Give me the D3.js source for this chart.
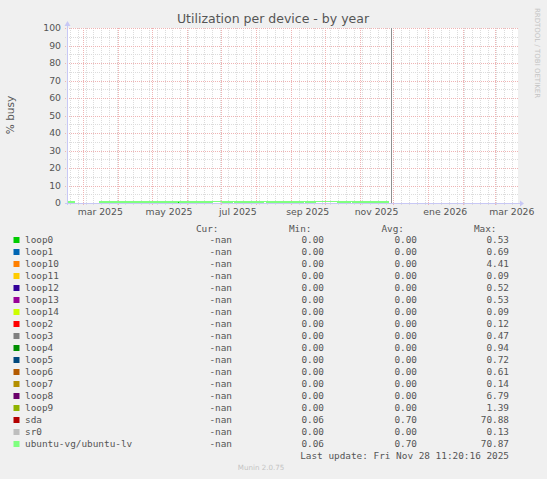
<!DOCTYPE html>
<html><head><meta charset="utf-8">
<script src="https://cdn.jsdelivr.net/npm/d3@7"></script>
<style>body{margin:0;background:#f0f0f0}svg{display:block}</style>
</head><body><svg id="c" width="547" height="479"></svg>
<script>
// ---- data ----
const dates = ["2025-02-15","2025-02-22","2025-03-01","2025-03-08","2025-03-15","2025-03-22","2025-03-29",
  "2025-04-05","2025-04-12","2025-04-19","2025-04-26","2025-05-03","2025-05-10","2025-05-17","2025-05-24",
  "2025-05-31","2025-06-07","2025-06-14","2025-06-21","2025-06-28","2025-07-05","2025-07-12","2025-07-19",
  "2025-07-26","2025-08-02","2025-08-09","2025-08-16","2025-08-23","2025-08-30","2025-09-06","2025-09-13",
  "2025-09-20","2025-09-27","2025-10-04","2025-10-11","2025-10-18","2025-10-25","2025-11-01","2025-11-08",
  "2025-11-15","2025-11-22","2025-11-27"];
const seriesNames = ["loop0","loop1","loop10","loop11","loop12","loop13","loop14","loop2","loop3","loop4",
  "loop5","loop6","loop7","loop8","loop9","sda","sr0","ubuntu-vg/ubuntu-lv"];
const seriesColors = ["#00cc00","#0066b3","#ff8000","#ffcc00","#330099","#990099","#ccff00","#ff0000","#808080",
  "#008f00","#00487d","#b35a00","#b38f00","#6b006b","#8fb300","#b30000","#bebebe","#80ff80"];
const loop0  = [0,0,0,0,0,0,0,0,0,0,0,0,0,0,0.2,0,0,0,0,0,0,0,0,0,0,0,0,0,0,0,0,0,0,0,0,0,0,0,0,0,0,0];
const loop1  = [0,0,0,0,0,0,0,0,0,0,0,0,0,0,0,0,0,0,0,0,0,0,0,0.3,0,0,0,0,0,0,0,0,0,0,0,0,0,0,0,0,0,0];
const loop10 = [0,0,0,0,0,0,0,0,0,0,0.9,0,0,0,0,0,0,0,0,0,0,0,0,0,0,0,0,0,0,0,0,0,0,0,0,0,0,0,0,0,0,0];
const loop11 = [0,0,0,0,0,0,0,0,0,0,0,0,0,0,0,0,0,0,0,0,0,0,0,0,0,0,0,0,0,0,0,0,0,0,0,0,0,0,0,0,0,0];
const loop12 = [0,0,0,0,0,0,0,0,0,0,0,0,0,0,0,0,0,0,0,0,0,0,0,0,0,0,0,0,0,0,0,0,0,0,0,0,0,0,0,0,0,0];
const loop13 = [0,0,0,0,0,0,0,0,0,0,0,0,0,0,0,0,0,0,0,0,0,0,0,0,0,0,0,0,0,0,0,0,0,0,0,0,0,0,0,0,0,0];
const loop14 = [0,0,0,0,0,0,0,0,0,0,0,0,0,0,0,0,0,0,0,0,0,0,0,0,0,0,0,0,0,0,0,0,0,0,0,0,0,0,0,0,0,0];
const loop2  = [0,0,0,0,0,0,0,0,0,0,0,0,0,0,0,0,0,0,0,0,0,0,0,0,0,0,0,0,0,0,0,0,0,0,0,0,0,0,0,0,0,0];
const loop3  = [0,0,0,0,0,0,0,0,0,0,0,0,0,0,0,0,0,0,0,0,0,0,0,0,0,0,0,0,0,0,0,0,0,0,0,0,0,0,0,0,0,0];
const loop4  = [0,0,0,0,0,0,0,0,0,0,0,0,0,0,0,0,0,0,0,0,0,0,0,0,0,0,0,0.3,0,0,0,0,0,0,0,0,0,0,0,0,0,0];
const loop5  = [0,0,0,0,0,0,0,0,0,0,0,0,0,0,0,0,0,0,0,0,0,0,0,0,0,0,0,0,0,0,0,0,0,0,0,0,0,0,0,0,0,0];
const loop6  = [0,0,0,0,0,0,0,0,0,0,0,0,0,0,0,0,0,0,0,0,0,0,0,0,0,0,0,0,0,0,0,0,0,0,0,0,0,0,0,0,0,0];
const loop7  = [0,0,0,0,0,0,0,0,0,0,0,0,0,0,0,0,0,0,0,0,0,0,0,0,0,0,0,0,0,0,0,0,0,0,0,0,0,0,0,0,0,0];
const loop8  = [0,0,0,0,0,0,0,0,0,0,0,0,0,0,0,0,0,0,0,0,0,0.9,0,0,0,0,0,0,0,0,0,0,0,0,0,0,0,0,0,0,0,0];
const loop9  = [0,0,0,0,0,0,0,0,0,0,0,0,0,0,0,0,0,0,0,0,0,0,0,0,0,0,0,0,0,0,0,0,0,0,0,0,0,0,0,0,0,0];
const sda    = [0.5,0.4,null,null,0.4,0.5,0.5,0.6,0.5,0.5,0.6,0.5,0.7,0.6,0.8,0.7,0.6,1.0,0.7,0.9,0.7,0.8,0.7,0.7,
  0.7,0.8,0.7,0.7,0.6,0.7,0.8,0.7,0.9,0.9,0.8,0.7,0.8,0.7,0.6,0.5,0.5,0.4];
const sr0    = [0,0,0,0,0,0,0,0,0,0,0,0,0,0,0,0,0,0,0,0,0,0,0,0,0,0,0,0,0,0,0,0,0,0,0,0,0,0,0,0,0,0];
const ubuntuLv = [0.5,0.4,null,null,0.4,0.5,0.5,0.6,0.5,0.5,0.6,0.5,0.7,0.6,0.8,0.7,0.6,0.5,0.7,0.9,0.7,0.8,0.7,0.7,
  0.7,0.8,0.7,0.7,0.6,0.7,0.8,0.7,0.9,0.9,0.8,0.7,0.8,0.7,0.6,0.5,0.5,0.4];
const seriesValues = [loop0,loop1,loop10,loop11,loop12,loop13,loop14,loop2,loop3,loop4,loop5,loop6,loop7,loop8,loop9,sda,sr0,ubuntuLv];

const legendCur = ["-nan","-nan","-nan","-nan","-nan","-nan","-nan","-nan","-nan","-nan","-nan","-nan","-nan","-nan","-nan","-nan","-nan","-nan"];
const legendMin = ["0.00","0.00","0.00","0.00","0.00","0.00","0.00","0.00","0.00","0.00","0.00","0.00","0.00","0.00","0.00","0.06","0.00","0.06"];
const legendAvg = ["0.00","0.00","0.00","0.00","0.00","0.00","0.00","0.00","0.00","0.00","0.00","0.00","0.00","0.00","0.00","0.70","0.00","0.70"];
const legendMax = ["0.53","0.69","4.41","0.09","0.52","0.53","0.09","0.12","0.47","0.94","0.72","0.61","0.14","6.79","1.39","70.88","0.13","70.87"];

const yTicks = [0,10,20,30,40,50,60,70,80,90,100];
const xTickMonths = ["2025-03-01","2025-05-01","2025-07-01","2025-09-01","2025-11-01","2026-01-01","2026-03-01"];
const xTickLabels = ["mar 2025","may 2025","jul 2025","sep 2025","nov 2025","ene 2026","mar 2026"];
const timeStart = "2025-02-14T12:00:00Z";
const timeEnd = "2026-03-21T12:00:00Z";
const lastUpdate = "2025-11-28T11:20:16Z";
const titleText = "Utilization per device - by year";
const yLabelText = "% busy";
const lastUpdateText = "Last update: Fri Nov 28 11:20:16 2025";

// ---- drawing ----
const svg = d3.select("#c");
const L = 67, R = 518, T = 28, B = 203;
const x = d3.scaleUtc().domain([new Date(timeStart), new Date(timeEnd)]).range([L, R]);
const y = d3.scaleLinear().domain([0, 100]).range([B, T]);
const parse = s => new Date(s + "T00:00:00Z");

svg.append("rect").attr("width",547).attr("height",479).attr("fill","#f0f0f0");
svg.append("rect").attr("x",L).attr("y",T).attr("width",R-L).attr("height",B-T).attr("fill","#ffffff");

const grid = svg.append("g").attr("shape-rendering","crispEdges");
const minorC = "#dcdcdc", majorC = "#efb4b4";
d3.range(5, 100, 10).forEach(v => {
  grid.append("line").attr("x1",L-2).attr("x2",R).attr("y1",Math.round(y(v))+0.5).attr("y2",Math.round(y(v))+0.5)
    .attr("stroke",minorC).attr("stroke-dasharray","1,1");
});
d3.utcMonday.range(x.domain()[0], x.domain()[1]).forEach(d => {
  const px = Math.round(x(d))+0.5;
  grid.append("line").attr("x1",px).attr("x2",px).attr("y1",T).attr("y2",B+2)
    .attr("stroke",minorC).attr("stroke-dasharray","1,1");
});
yTicks.forEach(v => {
  grid.append("line").attr("x1",L-2).attr("x2",R).attr("y1",Math.round(y(v))+0.5).attr("y2",Math.round(y(v))+0.5)
    .attr("stroke",majorC).attr("stroke-dasharray","1,1");
});
d3.utcMonth.range(x.domain()[0], x.domain()[1]).forEach(d => {
  const px = Math.round(x(d))+0.5;
  grid.append("line").attr("x1",px).attr("x2",px).attr("y1",T).attr("y2",B+3)
    .attr("stroke",majorC).attr("stroke-dasharray","1,1");
});

svg.append("g").selectAll("text").data(yTicks).join("text")
  .attr("x",61).attr("y",d => y(d)).attr("dy","0.35em").attr("text-anchor","end")
  .attr("font-family","DejaVu Sans").attr("font-size","9.3px").attr("fill","#555")
  .text(d => d);
svg.append("g").selectAll("text").data(xTickMonths).join("text")
  .attr("x",d => x(d3.utcDay.offset(parse(d), 15))).attr("y",212).attr("dy","0.35em").attr("text-anchor","middle")
  .attr("font-family","DejaVu Sans").attr("font-size","9.3px").attr("fill","#555")
  .text((d,i) => xTickLabels[i]);

// series lines
const line = d3.line().defined(d => d.v != null).x(d => x(parse(d.t))).y(d => y(d.v));
seriesValues.forEach((vals, i) => {
  const pts = dates.map((t, j) => ({t, v: vals[j]}));
  svg.append("path").attr("d", line(pts)).attr("fill","none").attr("stroke",seriesColors[i])
    .attr("stroke-width", i === seriesValues.length-1 ? 1.8 : 1).attr("shape-rendering","crispEdges");
});

// last-update rule
const lu = new Date(lastUpdate);
svg.append("line").attr("x1",Math.round(x(lu))+0.5).attr("x2",Math.round(x(lu))+0.5).attr("y1",T).attr("y2",B)
  .attr("stroke","#909090").attr("stroke-width",1).attr("shape-rendering","crispEdges");

// axes
const ax = svg.append("g").attr("shape-rendering","crispEdges");
ax.append("line").attr("x1",L-2).attr("x2",R+3).attr("y1",B+0.5).attr("y2",B+0.5).attr("stroke","#c8c8f5");
ax.append("line").attr("x1",L+0.5).attr("x2",L+0.5).attr("y1",B+2).attr("y2",T-3).attr("stroke","#c8c8f5");
svg.append("path").attr("d",`M${R+2},${B-2.5} L${R+6},${B+0.5} L${R+2},${B+3.5} Z`).attr("fill","#c8c8f5");
svg.append("path").attr("d",`M${L-2.5},${T-2} L${L+0.5},${T-7} L${L+3.5},${T-2} Z`).attr("fill","#c8c8f5");

svg.append("text").attr("x",273).attr("y",23).attr("text-anchor","middle")
  .attr("font-family","DejaVu Sans").attr("font-size","12.5px").attr("fill","#555").text(titleText);
svg.append("text").attr("transform","translate(14,115) rotate(-90)").attr("text-anchor","middle")
  .attr("font-family","DejaVu Sans").attr("font-size","10.5px").attr("fill","#555").text(yLabelText);
svg.append("text").attr("transform","translate(535,53) rotate(90)").attr("text-anchor","middle")
  .attr("font-family","DejaVu Sans").attr("font-size","7px").attr("fill","#c4c4c4").text("RRDTOOL / TOBI OETIKER");

// legend
const lg = svg.append("g").attr("font-family","DejaVu Sans Mono").attr("font-size","9.4px").attr("fill","#555");
[["Cur:",218.5],["Min:",311.5],["Avg:",404],["Max:",496.5]].forEach(([t,xx]) => {
  lg.append("text").attr("x",xx).attr("y",228.5).attr("dy","0.35em").attr("text-anchor","end").text(t);
});
seriesNames.forEach((n, i) => {
  const cy = 240 + 12*i;
  lg.append("rect").attr("x",13.5).attr("y",cy-3).attr("width",6).attr("height",6).attr("fill",seriesColors[i]);
  lg.append("text").attr("x",25).attr("y",cy).attr("dy","0.35em").text(n);
  lg.append("text").attr("x",232).attr("y",cy).attr("dy","0.35em").attr("text-anchor","end").text(legendCur[i]);
  lg.append("text").attr("x",324).attr("y",cy).attr("dy","0.35em").attr("text-anchor","end").text(legendMin[i]);
  lg.append("text").attr("x",417).attr("y",cy).attr("dy","0.35em").attr("text-anchor","end").text(legendAvg[i]);
  lg.append("text").attr("x",509).attr("y",cy).attr("dy","0.35em").attr("text-anchor","end").text(legendMax[i]);
});
lg.append("text").attr("x",509).attr("y",455.5).attr("dy","0.35em").attr("text-anchor","end").text(lastUpdateText);
svg.append("text").attr("x",261).attr("y",468).attr("dy","0.35em").attr("text-anchor","middle")
  .attr("font-family","DejaVu Sans").attr("font-size","7.1px").attr("fill","#c4c4c4").text("Munin 2.0.75");
</script></body></html>
